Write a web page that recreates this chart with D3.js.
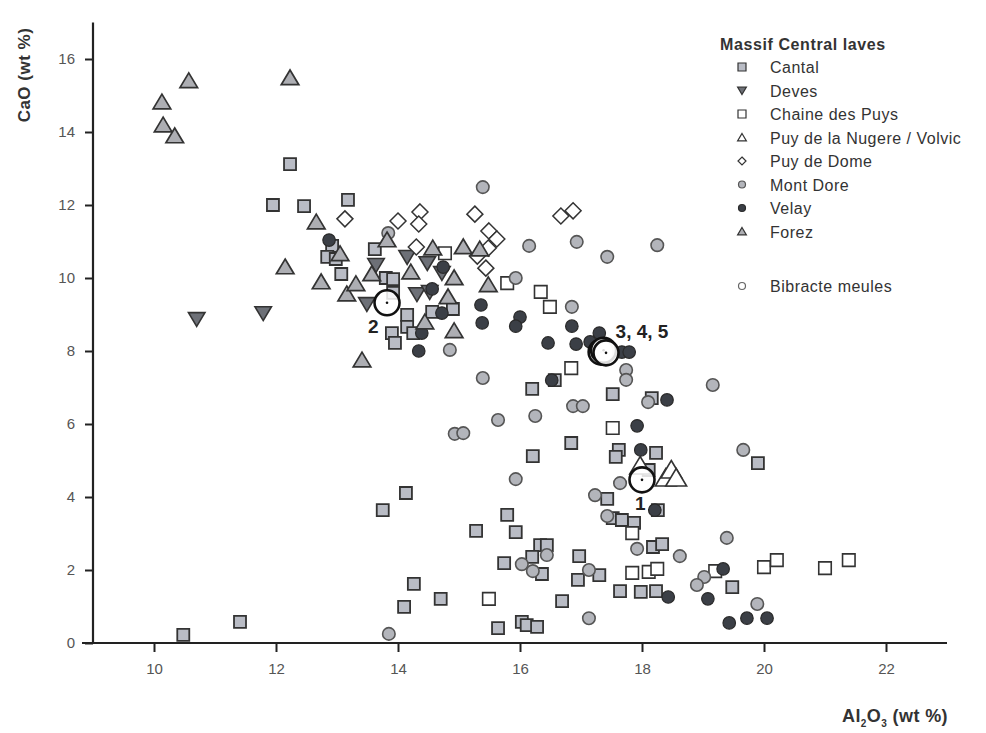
<!DOCTYPE html>
<html lang="en">
<head>
    <meta charset="UTF-8">
    <title>CaO vs Al2O3 - Massif Central laves</title>
    <style>
        html, body {
            margin: 0;
            padding: 0;
            background: #fff;
        }
        svg text {
            font-family: "Liberation Sans", Arial, sans-serif;
        }
    </style>
</head>
<body>
    <svg id="chart" width="986" height="733"></svg>

    <script src="https://cdn.jsdelivr.net/npm/d3@7/dist/d3.min.js"></script>
    <script>
        // [Al2O3, CaO]
        const cantal = [
            [12.23, 13.12], [11.95, 12.0], [12.46, 11.97], [13.18, 12.14], [12.92, 10.88],
            [12.84, 10.58], [12.98, 10.52], [13.07, 10.11], [13.62, 10.79], [13.8, 10.0],
            [13.92, 9.97], [13.92, 9.59], [14.9, 9.15], [14.56, 9.07], [14.15, 8.99],
            [14.15, 8.66], [13.9, 8.49], [13.95, 8.22], [14.25, 8.49], [16.57, 7.2],
            [16.2, 6.96], [17.52, 6.82], [18.16, 6.71], [16.84, 5.48], [16.21, 5.12],
            [17.62, 5.29], [17.57, 5.1], [18.23, 5.21], [18.11, 4.74], [17.43, 3.95],
            [18.26, 3.64], [17.52, 3.42], [17.67, 3.37], [17.87, 3.29], [18.18, 2.63],
            [18.33, 2.71], [14.13, 4.11], [13.75, 3.64], [15.79, 3.51], [15.28, 3.07],
            [15.93, 3.04], [16.33, 2.68], [16.44, 2.68], [16.2, 2.36], [15.74, 2.19],
            [16.36, 1.89], [16.97, 2.38], [17.3, 1.86], [16.95, 1.73], [14.26, 1.62],
            [14.1, 0.99], [14.7, 1.21], [16.69, 1.15], [15.64, 0.41], [16.03, 0.58],
            [16.11, 0.49], [16.28, 0.44], [10.48, 0.22], [11.41, 0.58], [19.48, 1.53],
            [17.64, 1.42], [17.98, 1.4], [18.23, 1.42], [19.9, 4.93]
        ];
        const deves = [
            [10.7, 8.88], [11.79, 9.04], [13.49, 9.29], [13.64, 10.36], [14.15, 10.58],
            [14.48, 10.41], [14.72, 10.14], [14.31, 9.56], [14.52, 9.62]
        ];
        const chaineDesPuys = [
            [14.77, 10.68], [15.79, 9.86], [16.34, 9.62], [16.49, 9.21], [16.84, 7.53],
            [17.52, 5.89], [17.84, 3.01], [17.84, 1.92], [18.11, 1.95], [18.25, 2.03],
            [19.2, 1.97], [15.49, 1.21], [20.0, 2.08], [20.21, 2.27], [21.0, 2.05],
            [21.39, 2.27]
        ];
        const nugere = [
            [17.97, 4.85], [18.39, 4.52], [18.48, 4.74], [18.56, 4.52]
        ];
        const puyDeDome = [
            [13.13, 11.62], [14.0, 11.56], [14.36, 11.81], [14.34, 11.48], [14.3, 10.85],
            [15.26, 11.75], [15.49, 11.29], [15.62, 11.07], [15.48, 10.82], [15.3, 10.6],
            [15.44, 10.27], [16.67, 11.7], [16.87, 11.84]
        ];
        const montDore = [
            [15.39, 12.49], [13.84, 11.23], [16.15, 10.88], [16.93, 10.99], [17.43, 10.58],
            [18.25, 10.9], [15.93, 10.0], [16.85, 9.21], [14.85, 8.03], [15.39, 7.26],
            [17.74, 7.48], [17.74, 7.21], [18.1, 6.6], [16.87, 6.49], [17.03, 6.49],
            [19.16, 7.07], [15.64, 6.11], [16.25, 6.22], [14.93, 5.73], [15.07, 5.75],
            [15.93, 4.49], [17.64, 4.38], [17.23, 4.05], [17.43, 3.48], [19.39, 2.88],
            [17.92, 2.58], [18.62, 2.38], [16.44, 2.41], [16.03, 2.16], [16.21, 1.97],
            [17.13, 2.0], [19.02, 1.81], [18.9, 1.59], [17.13, 0.68], [19.89, 1.07],
            [19.66, 5.29], [13.85, 0.25]
        ];
        const velay = [
            [12.87, 11.04], [14.74, 10.3], [14.56, 9.7], [14.72, 9.04], [14.39, 8.49],
            [14.34, 8.0], [15.36, 9.26], [15.38, 8.77], [16.0, 8.93], [15.93, 8.68],
            [16.85, 8.68], [16.46, 8.22], [16.92, 8.19], [17.15, 8.25], [17.3, 8.49],
            [17.67, 7.97], [17.79, 7.97], [16.52, 7.2], [18.41, 6.66], [17.92, 5.95],
            [17.98, 5.29], [18.21, 3.64], [18.43, 1.26], [19.08, 1.21], [19.33, 2.03],
            [19.43, 0.55], [19.72, 0.68], [20.05, 0.68]
        ];
        const forez = [
            [10.13, 14.82], [10.15, 14.19], [10.34, 13.89], [10.57, 15.4], [12.23, 15.48],
            [12.15, 10.3], [12.66, 11.53], [12.74, 9.89], [13.16, 9.56], [13.31, 9.84],
            [13.05, 10.66], [13.41, 7.75], [13.57, 10.11], [13.82, 11.04], [14.21, 10.16],
            [14.57, 10.82], [14.82, 9.48], [14.92, 10.0], [15.07, 10.85], [15.34, 10.79],
            [14.92, 8.55], [14.44, 8.79], [15.48, 9.81]
        ];
        // Bibracte millstones: sample number, Al2O3, CaO
        const bibracte = [
            ['1', 18.0, 4.47], ['2', 13.82, 9.32],
            ['3', 17.33, 7.97], ['4', 17.37, 8.02], ['5', 17.41, 7.95]
        ];
        const bibracteLabels = [['1', 18.0, 4.47], ['2', 13.82, 9.32], ['3, 4, 5', 17.37, 7.97]];

        const xTicks = [10, 12, 14, 16, 18, 20, 22];
        const yTicks = [0, 2, 4, 6, 8, 10, 12, 14, 16];

        const svg = d3.select('#chart');

        const x = d3.scaleLinear().domain([9, 23]).range([93, 947]);
        const y = d3.scaleLinear().domain([0, 17]).range([643, 22.5]);

        // marker shapes
        const shapes = {
            square: s => `M${-s / 2},${-s / 2}h${s}v${s}h${-s}Z`,
            triUp: s => `M0,${-s * 0.5}L${s * 0.55},${s * 0.42}L${-s * 0.55},${s * 0.42}Z`,
            triDown: s => `M0,${s * 0.5}L${s * 0.55},${-s * 0.42}L${-s * 0.55},${-s * 0.42}Z`,
            diamond: s => `M0,${-s / 2}L${s / 2},0L0,${s / 2}L${-s / 2},0Z`
        };

        const groups = [
            {name: 'Cantal', data: cantal, shape: 'square', size: 12, fill: '#b9bcc5', stroke: '#333', lw: 1.8},
            {name: 'Deves', data: deves, shape: 'triDown', size: 15, fill: '#6d7077', stroke: '#333', lw: 1.6},
            {name: 'Chaine des Puys', data: chaineDesPuys, shape: 'square', size: 12.5, fill: '#fff', stroke: '#333', lw: 1.6},
            {name: 'Puy de la Nugere / Volvic', data: nugere, shape: 'triUp', size: 19, fill: '#fff', stroke: '#333', lw: 1.6},
            {name: 'Puy de Dome', data: puyDeDome, shape: 'diamond', size: 16, fill: '#fff', stroke: '#333', lw: 1.5},
            {name: 'Mont Dore', data: montDore, shape: 'circle', size: 12.5, fill: '#b3b5bb', stroke: '#555', lw: 1.6},
            {name: 'Velay', data: velay, shape: 'circle', size: 12.5, fill: '#3b3f46', stroke: '#2a2a2a', lw: 1.2},
            {name: 'Forez', data: forez, shape: 'triUp', size: 16, fill: '#adaeb3', stroke: '#333', lw: 1.7}
        ];

        // axes
        const xAxis = svg.append('g')
            .attr('transform', `translate(0,${y(0)})`)
            .call(d3.axisBottom(x).tickValues(xTicks).tickSize(9).tickPadding(11));
        const yAxis = svg.append('g')
            .attr('transform', `translate(${x(9)},0)`)
            .call(d3.axisLeft(y).tickValues(yTicks).tickSize(8).tickPadding(10));

        [xAxis, yAxis].forEach(g => {
            g.select('.domain').remove();
            g.selectAll('line').attr('stroke', '#222').attr('stroke-width', 2);
            g.selectAll('text')
                .attr('fill', '#555')
                .style('font-size', '15px')
                .style('font-family', '"Liberation Sans", Arial, sans-serif');
        });

        svg.append('line')
            .attr('x1', x(9) - 11).attr('x2', x(23))
            .attr('y1', y(0)).attr('y2', y(0))
            .attr('stroke', '#222').attr('stroke-width', 2.2);
        svg.append('line')
            .attr('x1', x(9)).attr('x2', x(9))
            .attr('y1', y(17)).attr('y2', y(0))
            .attr('stroke', '#222').attr('stroke-width', 2.2);

        // axis titles
        svg.append('text')
            .attr('transform', `translate(30,75) rotate(-90)`)
            .attr('text-anchor', 'middle')
            .attr('font-weight', 'bold')
            .attr('font-size', 17)
            .attr('letter-spacing', 0.5)
            .attr('fill', '#333')
            .text('CaO (wt %)');

        const xt = svg.append('text')
            .attr('x', 948).attr('y', 722)
            .attr('text-anchor', 'end')
            .attr('font-weight', 'bold')
            .attr('font-size', 18)
            .attr('letter-spacing', 0.4)
            .attr('fill', '#333');
        xt.append('tspan').text('Al');
        xt.append('tspan').attr('font-size', 10).attr('dy', 5).text('2');
        xt.append('tspan').attr('dy', -5).text('O');
        xt.append('tspan').attr('font-size', 10).attr('dy', 5).text('3');
        xt.append('tspan').attr('dy', -5).text(' (wt %)');

        // draw a marker into a selection
        function drawMarker(sel, g, s) {
            if (g.shape === 'circle') {
                sel.append('circle').attr('r', s / 2);
            } else {
                sel.append('path').attr('d', shapes[g.shape](s));
            }
            sel.selectAll('circle, path')
                .attr('fill', g.fill)
                .attr('stroke', g.stroke)
                .attr('stroke-width', g.lw);
        }

        // points
        groups.forEach(g => {
            svg.append('g').selectAll('g')
                .data(g.data)
                .join('g')
                .attr('transform', d => `translate(${x(d[0])},${y(d[1])})`)
                .each(function () { drawMarker(d3.select(this), g, g.size); });
        });

        // Bibracte millstones
        const bib = svg.append('g').selectAll('g')
            .data(bibracte)
            .join('g')
            .attr('transform', d => `translate(${x(d[1])},${y(d[2])})`);
        bib.append('circle')
            .attr('r', 12.5)
            .attr('fill', '#fff')
            .attr('fill-opacity', 0.85)
            .attr('stroke', '#111')
            .attr('stroke-width', 2.6);
        bib.append('circle').attr('r', 1.3).attr('fill', '#111');

        const labelOffset = {'1': [-7, 30], '2': [-19, 30], '3, 4, 5': [12, -14]};
        svg.append('g').selectAll('text')
            .data(bibracteLabels)
            .join('text')
            .attr('x', d => x(d[1]) + labelOffset[d[0]][0])
            .attr('y', d => y(d[2]) + labelOffset[d[0]][1])
            .attr('font-weight', 'bold')
            .attr('font-size', 19)
            .attr('fill', '#222')
            .text(d => d[0]);

        // legend
        const legend = svg.append('g').attr('transform', 'translate(720,0)');
        legend.append('text')
            .attr('x', 0).attr('y', 50)
            .attr('font-weight', 'bold')
            .attr('font-size', 16)
            .attr('letter-spacing', 0.6)
            .attr('fill', '#333')
            .text('Massif Central laves');

        const rowY = [67, 90.5, 114, 137.5, 161, 184.5, 208, 231.5];
        groups.forEach((g, i) => {
            const row = legend.append('g').attr('transform', `translate(0,${rowY[i]})`);
            const m = row.append('g').attr('transform', 'translate(22,0)');
            drawMarker(m, {...g, lw: 1.2}, g.shape === 'circle' ? 7 : 8);
            row.append('text')
                .attr('x', 50).attr('y', 6)
                .attr('font-size', 16)
                .attr('letter-spacing', 0.5)
                .attr('fill', '#333')
                .text(g.name);
        });
        const bRow = legend.append('g').attr('transform', 'translate(0,286)');
        bRow.append('circle').attr('cx', 22).attr('r', 3.5)
            .attr('fill', '#fff').attr('stroke', '#666').attr('stroke-width', 1.2);
        bRow.append('text')
            .attr('x', 50).attr('y', 6)
            .attr('font-size', 16)
            .attr('letter-spacing', 0.5)
            .attr('fill', '#333')
            .text('Bibracte meules');
    </script>
</body>
</html>
